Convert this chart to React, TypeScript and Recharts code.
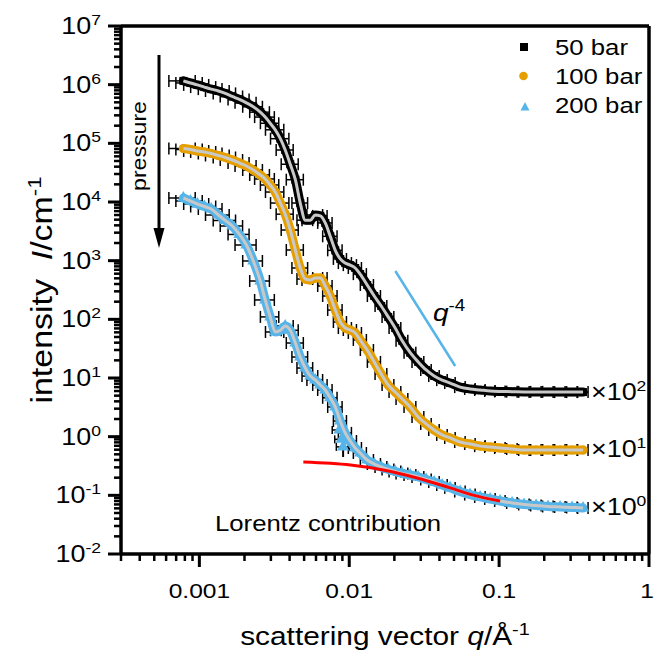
import React from "react";
import { ComposedChart, Scatter, ErrorBar, XAxis, YAxis, ReferenceLine } from "recharts";

// scattering vector grid (1/Å), shared by all three pressures
const q = [
  0.000782, 0.000871, 0.00097, 0.00108, 0.0012, 0.00134, 0.00149, 0.00166, 0.00185, 0.00206,
  0.00229, 0.00255, 0.00275, 0.00297, 0.00321, 0.00347, 0.00374, 0.00404, 0.00437, 0.00471,
  0.00509, 0.0055, 0.00593, 0.00641, 0.00692, 0.00747, 0.00807, 0.00871, 0.0094, 0.01015,
  0.01096, 0.01183, 0.01318, 0.01468, 0.01634, 0.0182, 0.02026, 0.02256, 0.02551, 0.02884,
  0.03261, 0.03687, 0.04169, 0.04713, 0.05495, 0.06406, 0.07468, 0.0871, 0.1015, 0.1221,
  0.1468, 0.1765, 0.2122, 0.2551, 0.3068, 0.3631,
];
// q resolution (horizontal error bars)
const dq = [
  0.000156, 0.000174, 0.000184, 0.000205, 0.000216, 0.000241, 0.000253, 0.000282, 0.000296, 0.00033,
  0.000344, 0.000383, 0.000413, 0.000416, 0.000449, 0.000486, 0.000486, 0.000525, 0.000568, 0.000565,
  0.000611, 0.00066, 0.000712, 0.000705, 0.000761, 0.000822, 0.000888, 0.000871, 0.00094, 0.00102,
  0.0011, 0.00118, 0.00132, 0.00147, 0.00147, 0.00164, 0.00182, 0.00203, 0.0023, 0.0026,
  0.00261, 0.00295, 0.00334, 0.00377, 0.0044, 0.00512, 0.00597, 0.00697, 0.00812, 0.00977,
  0.0117, 0.0141, 0.017, 0.0204, 0.0245, 0.029,
];
// 50 bar, plotted x10^2
const i50 = [
  1.16e6, 1.07e6, 9.9e5, 9.1e5, 8.4e5, 7.8e5, 7.1e5, 6.3e5, 5.6e5, 4.9e5,
  4.2e5, 3.4e5, 2.8e5, 2.2e5, 1.7e5, 1.2e5, 7.7e4, 4.4e4, 2.4e4, 9.6e3,
  4.9e3, 4.9e3, 6.0e3, 5.8e3, 4.4e3, 2.6e3, 1.5e3, 1070, 910, 840,
  750, 590, 385, 250, 169, 110, 71, 43, 27, 18.8,
  13.7, 10.8, 9.2, 8.2, 7.0, 6.5, 6.25, 6.0, 5.9, 5.85,
  5.8, 5.8, 5.8, 5.75, 5.75, 5.75,
];
// 100 bar, plotted x10^1
const i100 = [
  8.17e4, 7.85e4, 7.4e4, 7.12e4, 6.71e4, 6.21e4, 5.74e4, 5.2e4, 4.62e4, 4.11e4,
  3.51e4, 2.89e4, 2.47e4, 1.95e4, 1.48e4, 9.6e3, 6.2e3, 3.33e3, 1.52e3, 750,
  487, 469, 507, 507, 370, 250, 144, 90, 71, 65.8,
  58.5, 44.5, 30, 18.8, 11.7, 7.6, 5.78, 4.39, 3.21, 2.17,
  1.65, 1.3, 1.07, 0.95, 0.81, 0.75, 0.69, 0.667, 0.641, 0.617,
  0.593, 0.593, 0.593, 0.593, 0.593, 0.593,
];
// 200 bar, plotted x10^0
const i200 = [
  1.17e4, 1.04e4, 9.25e3, 8.38e3, 7.6e3, 6.0e3, 4.84e3, 3.9e3, 2.8e3, 1.85e3,
  988, 450, 214, 110, 60.9, 65, 77, 65, 39.5, 22.8,
  14.8, 10.8, 9.25, 7.6, 6.25, 4.6, 3.21, 1.85, 1.16, 0.844,
  0.641, 0.527, 0.4, 0.342, 0.304, 0.276, 0.255, 0.236, 0.222, 0.206,
  0.186, 0.169, 0.15, 0.134, 0.116, 0.103, 0.0938, 0.0867, 0.0801, 0.0741,
  0.0698, 0.0672, 0.0646, 0.0633, 0.0621, 0.0609,
];
// scattered 200 bar points near q = 0.009 with large errors
const noisyQ = [0.0086, 0.0089, 0.0091];
const noisyI = [1.3, 0.9, 0.67];
const noisyDq = [0.0009, 0.0009, 0.0009];
const noisyDi = [[0, 0], [0, 0], [0.22, 0.32]];

const lorentzQ = [0.00494, 0.0102, 0.01686, 0.0284, 0.0471, 0.0671, 0.1015];
const lorentzI = [0.37, 0.329, 0.271, 0.198, 0.134, 0.101, 0.08];

const slopeQ = [0.0203, 0.0509];
const slopeI = [667, 16];

const xTicks = [
  0.0003, 0.0004, 0.0005, 0.0006, 0.0007, 0.0008, 0.0009,
  0.001, 0.002, 0.003, 0.004, 0.005, 0.006, 0.007, 0.008, 0.009,
  0.01, 0.02, 0.03, 0.04, 0.05, 0.06, 0.07, 0.08, 0.09,
  0.1, 0.2, 0.3, 0.4, 0.5, 0.6, 0.7, 0.8, 0.9, 1,
];
const yMajor = [0.01, 0.1, 1, 10, 100, 1000, 1e4, 1e5, 1e6, 1e7];
const minorSteps = [2, 3, 4, 5, 6, 7, 8, 9];
const yTicks: number[] = [];
yMajor.forEach((m, k) => {
  yTicks.push(m);
  if (k < yMajor.length - 1) minorSteps.forEach((s) => yTicks.push(m * s));
});

const W = 654;
const H = 656;
const PLOT = { left: 121, top: 26, right: 649, bottom: 554 };
const FONT = "'Liberation Sans', Arial, Helvetica, sans-serif";
const SX = 1.17;

const ORANGE = "#e69f00";
const BLUE = "#56b4e9";
const FIT = "#c8c8c8";

const series = [
  { name: "50 bar", values: i50, color: "#000000", shape: "square", exp: "2" },
  { name: "100 bar", values: i100, color: ORANGE, shape: "circle", exp: "1" },
  { name: "200 bar", values: i200, color: BLUE, shape: "triangle", exp: "0" },
];

const toPoints = (vals: number[]) => q.map((qq, k) => ({ q: qq, i: vals[k], dq: dq[k] }));
const pairPoints = (xs: number[], ys: number[]) => xs.map((x, k) => ({ q: x, i: ys[k] }));

const isMajor = (v: number) => {
  const lg = Math.log10(v);
  return Math.abs(lg - Math.round(lg)) < 1e-6;
};

const Empty = () => <g />;

function SText({ x, y, size, anchor = "start", italic = false, children }: any) {
  return (
    <text
      transform={`translate(${x} ${y}) scale(${SX} 1)`}
      fontSize={size}
      textAnchor={anchor}
      fontFamily={FONT}
      fontStyle={italic ? "italic" : "normal"}
      fill="#000"
    >
      {children}
    </text>
  );
}

const XTick = (props: any) => {
  const { x, payload } = props;
  const v = payload.value;
  const major = isMajor(v);
  const last = v === 1;
  return (
    <g>
      <line
        x1={x}
        x2={x}
        y1={PLOT.bottom}
        y2={PLOT.bottom + (major ? 13 : 7)}
        stroke="#000"
        strokeWidth={major ? 3 : 2.5}
      />
      {major && (
        <SText x={last ? x - 2 : x} y={598} size={21} anchor="middle">
          {String(v)}
        </SText>
      )}
    </g>
  );
};

const YTick = (props: any) => {
  const { y, payload } = props;
  const v = payload.value;
  const major = isMajor(v);
  const e = Math.round(Math.log10(v));
  return (
    <g>
      <line
        x1={PLOT.left}
        x2={PLOT.left - (major ? 13 : 7)}
        y1={y}
        y2={y}
        stroke="#000"
        strokeWidth={major ? 3 : 2.5}
      />
      {major && (
        <SText x={101} y={y + 8} size={23} anchor="end">
          10
          <tspan dy={-9} fontSize={15}>
            {e}
          </tspan>
        </SText>
      )}
    </g>
  );
};

function Overlay() {
  return (
    <svg
      width={W}
      height={H}
      style={{ position: "absolute", left: 0, top: 0, pointerEvents: "none" }}
    >
      {/* pressure arrow */}
      <line x1={159} x2={159} y1={55} y2={232} stroke="#000" strokeWidth={3} />
      <polygon points="153.5,228 164.5,228 159,248" fill="#000" />
      <text
        transform="translate(146 146) scale(1 1.1) rotate(-90)"
        fontSize={21}
        textAnchor="middle"
        fontFamily={FONT}
      >
        pressure
      </text>

      {/* legend */}
      <rect x={520} y={43} width={8} height={8} fill="#000" />
      <circle cx={523.5} cy={76} r={4.3} fill={ORANGE} />
      <polygon points="520.5,110.5 529.5,110.5 525,102" fill={BLUE} />
      <SText x={555} y={55} size={22}>50 bar</SText>
      <SText x={555} y={84} size={22}>100 bar</SText>
      <SText x={555} y={113} size={22}>200 bar</SText>

      {/* scale factors */}
      {series.map((s, k) => (
        <SText key={s.name} x={591} y={[400, 457, 515][k]} size={23}>
          ×10
          <tspan dy={-9} fontSize={15}>
            {s.exp}
          </tspan>
        </SText>
      ))}

      <SText x={433} y={321} size={24} italic>
        q
        <tspan dy={-10} fontSize={16} fontStyle="normal">
          -4
        </tspan>
      </SText>

      <SText x={215} y={531} size={22}>Lorentz contribution</SText>

      {/* axis titles */}
      <SText x={385} y={645} size={25.5} anchor="middle">
        scattering vector <tspan fontStyle="italic">q</tspan>/Å
        <tspan dy={-10} fontSize={17}>
          -1
        </tspan>
      </SText>
      <text
        transform="translate(52 290) scale(1 1.17) rotate(-90)"
        fontSize={29}
        textAnchor="middle"
        fontFamily={FONT}
      >
        intensity{"\u00a0\u00a0"}
        <tspan fontStyle="italic">I</tspan>/cm
        <tspan dy={-11} fontSize={19}>
          -1
        </tspan>
      </text>
    </svg>
  );
}

export default function App() {
  const axisLine = { stroke: "#000", strokeWidth: 3.5 };
  return (
    <div style={{ position: "absolute", left: 0, top: 0, width: W, height: H, background: "#fff" }}>
      <ComposedChart
        width={W}
        height={H}
        margin={{ top: PLOT.top, right: W - PLOT.right, bottom: 0, left: 0 }}
      >
        <XAxis
          dataKey="q"
          type="number"
          scale="log"
          domain={[0.0003, 1]}
          ticks={xTicks}
          interval={0}
          allowDataOverflow
          height={H - PLOT.bottom}
          axisLine={axisLine}
          tickLine={false}
          tick={<XTick />}
        />
        <YAxis
          dataKey="i"
          type="number"
          scale="log"
          domain={[0.01, 1e7]}
          ticks={yTicks}
          interval={0}
          allowDataOverflow
          width={PLOT.left}
          axisLine={axisLine}
          tickLine={false}
          tick={<YTick />}
        />
        <ReferenceLine y={1e7} stroke="#000" strokeWidth={3.5} />
        <ReferenceLine x={1} stroke="#000" strokeWidth={3.5} />

        {/* resolution error bars */}
        {series.map((s) => (
          <Scatter
            key={`err-${s.name}`}
            data={toPoints(s.values)}
            shape={<Empty />}
            isAnimationActive={false}
          >
            <ErrorBar
              dataKey="dq"
              direction="x"
              width={6}
              stroke="#000"
              strokeWidth={1.5}
              isAnimationActive={false}
            />
          </Scatter>
        ))}
        <Scatter
          data={noisyQ.map((x, k) => ({ q: x, i: noisyI[k], dq: noisyDq[k], di: noisyDi[k] }))}
          fill={BLUE}
          shape="triangle"
          size={50}
          isAnimationActive={false}
        >
          <ErrorBar dataKey="dq" direction="x" width={4} stroke="#000" strokeWidth={1.5} isAnimationActive={false} />
          <ErrorBar dataKey="di" direction="y" width={0} stroke="#000" strokeWidth={2} isAnimationActive={false} />
        </Scatter>

        {/* measured points */}
        {series.map((s) => (
          <Scatter
            key={`pts-${s.name}`}
            name={s.name}
            data={toPoints(s.values)}
            fill={s.color}
            shape={s.shape as any}
            size={70}
            line={{ stroke: s.color, strokeWidth: 9, strokeLinecap: "round", strokeLinejoin: "round" }}
            lineJointType="monotoneX"
            isAnimationActive={false}
          />
        ))}

        {/* model fits */}
        {series.map((s) => (
          <Scatter
            key={`fit-${s.name}`}
            data={toPoints(s.values)}
            shape={<Empty />}
            line={{ stroke: FIT, strokeWidth: 3 }}
            lineJointType="monotoneX"
            isAnimationActive={false}
          />
        ))}

        <Scatter
          data={pairPoints(lorentzQ, lorentzI)}
          shape={<Empty />}
          line={{ stroke: "#ff0000", strokeWidth: 3 }}
          lineJointType="monotoneX"
          isAnimationActive={false}
        />
        <Scatter
          data={pairPoints(slopeQ, slopeI)}
          shape={<Empty />}
          line={{ stroke: BLUE, strokeWidth: 2.5 }}
          isAnimationActive={false}
        />
      </ComposedChart>
      <Overlay />
    </div>
  );
}
